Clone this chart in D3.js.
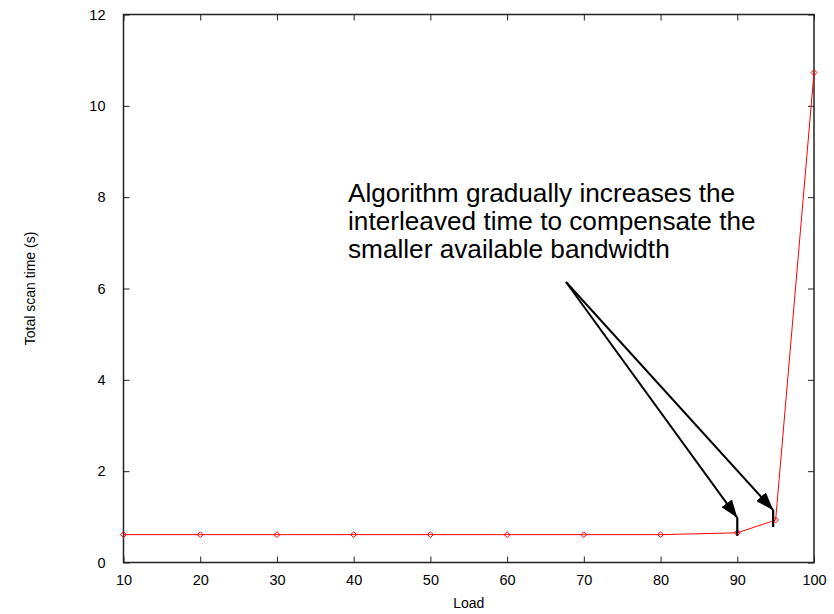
<!DOCTYPE html>
<html>
<head>
<meta charset="utf-8">
<script src="https://cdn.jsdelivr.net/npm/d3@7"></script>
<style>
  body { margin: 0; background: white; }
  text { font-family: "Liberation Sans", Arial, sans-serif; }
</style>
</head>
<body>
<svg id="chart" width="834" height="614"></svg>
<script>
// data
const loads = [10, 20, 30, 40, 50, 60, 70, 80, 90, 95, 100];
const scanTimes = [0.61, 0.61, 0.61, 0.61, 0.61, 0.61, 0.61, 0.61, 0.65, 0.93, 10.73];
const xTicks = [10, 20, 30, 40, 50, 60, 70, 80, 90, 100];
const yTicks = [0, 2, 4, 6, 8, 10, 12];
const noteLines = [
  "Algorithm gradually increases the",
  "interleaved time to compensate the",
  "smaller available bandwidth"
];
// arrows point at the 90 and 95 load points
const arrowTargets = [90, 95];

const svg = d3.select("#chart");
const margin = { left: 123.5, right: 20, top: 14.5, bottom: 51.5 };
const W = 834, H = 614;

const x = d3.scaleLinear().domain([10, 100]).range([margin.left, W - margin.right]);
const y = d3.scaleLinear().domain([0, 12]).range([H - margin.bottom, margin.top]);

// arrow head marker
svg.append("defs").append("marker")
  .attr("id", "head")
  .attr("viewBox", "0 0 10 10")
  .attr("refX", 10).attr("refY", 5)
  .attr("markerWidth", 9).attr("markerHeight", 6.5)
  .attr("markerUnits", "strokeWidth")
  .attr("orient", "auto")
  .attr("preserveAspectRatio", "none")
  .append("path")
  .attr("d", "M0,0 L10,5 L0,10 Z")
  .attr("fill", "black");

const tickLen = 6;

// frame + inward ticks (gnuplot style, mirrored)
svg.append("rect")
  .attr("x", x(10)).attr("y", y(12))
  .attr("width", x(100) - x(10)).attr("height", y(0) - y(12))
  .attr("fill", "none").attr("stroke", "#222").attr("stroke-width", 1.5);

const axBottom = svg.append("g")
  .attr("transform", `translate(0,${y(0)})`)
  .call(d3.axisBottom(x).tickValues(xTicks).tickSizeInner(-tickLen).tickSizeOuter(0).tickPadding(12));
const axTop = svg.append("g")
  .attr("transform", `translate(0,${y(12)})`)
  .call(d3.axisTop(x).tickValues(xTicks).tickSizeInner(-tickLen).tickSizeOuter(0).tickFormat(""));
const axLeft = svg.append("g")
  .attr("transform", `translate(${x(10)},0)`)
  .call(d3.axisLeft(y).tickValues(yTicks).tickSizeInner(-tickLen).tickSizeOuter(0).tickPadding(18));
const axRight = svg.append("g")
  .attr("transform", `translate(${x(100)},0)`)
  .call(d3.axisRight(y).tickValues(yTicks).tickSizeInner(-tickLen).tickSizeOuter(0).tickFormat(""));

[axBottom, axTop, axLeft, axRight].forEach(g => {
  g.select(".domain").remove();
  g.selectAll(".tick line").attr("stroke", "#222").attr("stroke-width", 1);
  g.selectAll("text")
    .attr("fill", "black")
    .style("font-family", "'Liberation Sans', Arial, sans-serif")
    .style("font-size", "14.5px");
});

// axis titles
svg.append("text")
  .attr("x", (x(10) + x(100)) / 2).attr("y", 608)
  .attr("text-anchor", "middle")
  .style("font-size", "14px")
  .text("Load");

svg.append("text")
  .attr("transform", `translate(35,${(y(0) + y(12)) / 2}) rotate(-90)`)
  .attr("text-anchor", "middle")
  .style("font-size", "14px")
  .text("Total scan time (s)");

// series line
const pts = loads.map((d, i) => ({ load: d, t: scanTimes[i] }));
svg.append("path")
  .datum(pts)
  .attr("fill", "none")
  .attr("stroke", "red")
  .attr("stroke-width", 1)
  .attr("d", d3.line().x(d => x(d.load)).y(d => y(d.t)));

// open diamond markers
svg.selectAll(".pt")
  .data(pts)
  .join("path")
  .attr("class", "pt")
  .attr("transform", d => `translate(${x(d.load)},${y(d.t)})`)
  .attr("d", d3.symbol(d3.symbolDiamond2, 22))
  .attr("fill", "none")
  .attr("stroke", "red")
  .attr("stroke-width", 1);

// annotation text
const note = svg.append("text")
  .attr("x", 348).attr("y", 202)
  .style("font-size", "26.2px")
  .attr("fill", "black");
note.selectAll("tspan")
  .data(noteLines)
  .join("tspan")
  .attr("x", 348)
  .attr("dy", (d, i) => i === 0 ? 0 : 27.8)
  .text(d => d);

// arrows: from below the text to just above each point, with a short stem
const origin = [566, 282];
const arrowData = arrowTargets.map(l => {
  const i = loads.indexOf(l);
  const px = l === 95 ? x(l) - 2.5 : x(l);
  return { px, tipY: y(scanTimes[i]) - (l === 95 ? 10 : 15), stemEnd: y(scanTimes[i]) + (l === 95 ? 7 : 3) };
});

svg.selectAll(".arrow")
  .data(arrowData)
  .join("line")
  .attr("class", "arrow")
  .attr("x1", origin[0]).attr("y1", origin[1])
  .attr("x2", d => d.px).attr("y2", d => d.tipY)
  .attr("stroke", "black").attr("stroke-width", 2)
  .attr("marker-end", "url(#head)");

svg.selectAll(".stem")
  .data(arrowData)
  .join("line")
  .attr("class", "stem")
  .attr("x1", d => d.px).attr("y1", d => d.tipY)
  .attr("x2", d => d.px).attr("y2", d => d.stemEnd)
  .attr("stroke", "black").attr("stroke-width", 2.2);
</script>
</body>
</html>
